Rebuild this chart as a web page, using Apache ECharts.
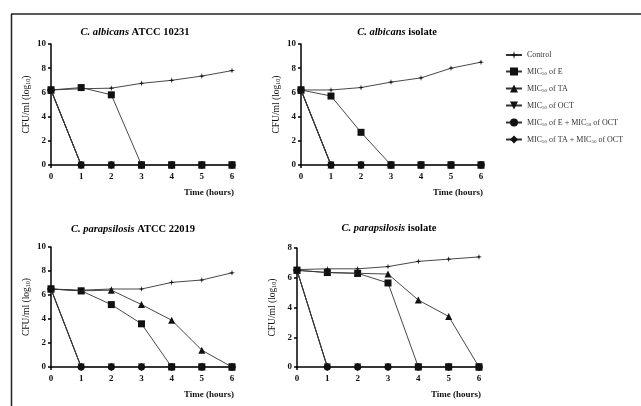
<!DOCTYPE html>
<html><head><meta charset="utf-8">
<script src="https://cdn.jsdelivr.net/npm/echarts@6/dist/echarts.min.js"></script>
<style>html,body{margin:0;padding:0;background:#fff}#c{width:641px;height:406px}</style>
</head><body><div id="c"></div>
<script>
const hours = [0, 1, 2, 3, 4, 5, 6];
const seriesNames = ['Control', 'MIC50 of E', 'MIC50 of TA', 'MIC50 of OCT', 'MIC50 of E + MIC50 of OCT', 'MIC50 of TA + MIC50 of OCT'];
const legendLabels = ['Control', 'MIC{s|50} of E', 'MIC{s|50} of TA', 'MIC{s|50} of OCT', 'MIC{s|50} of E + MIC{s|50} of OCT', 'MIC{s|50} of TA + MIC{s|50} of OCT'];
const panelTitles = ['{i|C. albicans} {b|ATCC 10231}', '{i|C. albicans} {b|isolate}', '{i|C. parapsilosis} {b|ATCC 22019}', '{i|C. parapsilosis} {b|isolate}'];
const yMax = [10, 10, 10, 8];
const xTickLabels = ['0', '1', '2', '3', '4', '5', '6'];

// C. albicans ATCC 10231
const a1Control = [6.2, 6.3, 6.35, 6.75, 7.0, 7.35, 7.8];
const a1E = [6.2, 6.4, 5.8, 0, 0, 0, 0];
const a1TA = [6.2, 0, 0, 0, 0, 0, 0];
const a1OCT = [6.2, 0, 0, 0, 0, 0, 0];
const a1EOCT = [6.2, 0, 0, 0, 0, 0, 0];
const a1TAOCT = [6.2, 0, 0, 0, 0, 0, 0];
// C. albicans isolate
const a2Control = [6.2, 6.2, 6.4, 6.85, 7.2, 8.0, 8.5];
const a2E = [6.2, 5.7, 2.7, 0, 0, 0, 0];
const a2TA = [6.2, 0, 0, 0, 0, 0, 0];
const a2OCT = [6.2, 0, 0, 0, 0, 0, 0];
const a2EOCT = [6.2, 0, 0, 0, 0, 0, 0];
const a2TAOCT = [6.2, 0, 0, 0, 0, 0, 0];
// C. parapsilosis ATCC 22019
const p1Control = [6.5, 6.4, 6.5, 6.5, 7.05, 7.25, 7.85];
const p1E = [6.5, 6.35, 5.2, 3.6, 0, 0, 0];
const p1TA = [6.5, 6.35, 6.4, 5.2, 3.9, 1.4, 0];
const p1OCT = [6.5, 0, 0, 0, 0, 0, 0];
const p1EOCT = [6.5, 0, 0, 0, 0, 0, 0];
const p1TAOCT = [6.5, 0, 0, 0, 0, 0, 0];
// C. parapsilosis isolate
const p2Control = [6.55, 6.6, 6.6, 6.75, 7.1, 7.25, 7.4];
const p2E = [6.5, 6.35, 6.3, 5.65, 0, 0, 0];
const p2TA = [6.5, 6.35, 6.3, 6.25, 4.5, 3.4, 0];
const p2OCT = [6.5, 0, 0, 0, 0, 0, 0];
const p2EOCT = [6.5, 0, 0, 0, 0, 0, 0];
const p2TAOCT = [6.5, 0, 0, 0, 0, 0, 0];

const panels = [
  [a1Control, a1E, a1TA, a1OCT, a1EOCT, a1TAOCT],
  [a2Control, a2E, a2TA, a2OCT, a2EOCT, a2TAOCT],
  [p1Control, p1E, p1TA, p1OCT, p1EOCT, p1TAOCT],
  [p2Control, p2E, p2TA, p2OCT, p2EOCT, p2TAOCT]
];

const FONT = '"Liberation Serif", "DejaVu Serif", serif';
const grids = [
  {left: 51, top: 44, width: 181, height: 121},
  {left: 301, top: 44, width: 180, height: 121},
  {left: 51, top: 247, width: 181, height: 120},
  {left: 297, top: 248, width: 182, height: 119}
];
const titleCenters = [[130, 22], [392, 22], [128, 219], [384, 218]];

const starPath = 'path://M0,-10L2,-2L10,0L2,2L0,10L-2,2L-10,0L-2,-2Z';
const symbols = [starPath, 'rect', 'triangle', 'triangle', 'circle', 'diamond'];
const symbolSizes = [6, 7, 7, 7, 7, 8];
const symbolRotate = [0, 0, 0, 180, 0, 0];

const option = {
  backgroundColor: '#fff',
  animation: false,
  textStyle: {fontFamily: FONT, color: '#000'},
  graphic: [
    {type: 'line', shape: {x1: 11, y1: 14, x2: 641, y2: 14}, style: {stroke: '#222', lineWidth: 1.5}},
    {type: 'line', shape: {x1: 11.5, y1: 14, x2: 11.5, y2: 406}, style: {stroke: '#222', lineWidth: 1.5}}
  ],
  title: panelTitles.map((t, i) => ({
    text: t,
    left: titleCenters[i][0],
    top: titleCenters[i][1],
    textAlign: 'center',
    textStyle: {
      fontFamily: FONT, fontSize: 10.5, color: '#000',
      rich: {
        i: {fontFamily: FONT, fontSize: 10.5, fontStyle: 'italic', fontWeight: 'bold', color: '#000'},
        b: {fontFamily: FONT, fontSize: 10.5, fontWeight: 'bold', color: '#000'}
      }
    }
  })),
  legend: {
    orient: 'vertical',
    left: 500,
    top: 46,
    itemGap: 8.5,
    itemWidth: 16,
    itemHeight: 10,
    data: seriesNames,
    formatter: name => legendLabels[seriesNames.indexOf(name)],
    textStyle: {
      fontFamily: FONT, fontSize: 8, color: '#333',
      rich: {s: {fontFamily: FONT, fontSize: 5, color: '#333', verticalAlign: 'bottom', padding: [4, 0, 0, 0]}}
    },
    selectedMode: false
  },
  grid: grids.map(g => Object.assign({containLabel: false}, g)),
  xAxis: grids.map((g, i) => ({
    type: 'value', gridIndex: i, min: 0, max: 6, interval: 1,
    name: 'Time (hours)', nameLocation: 'end', nameGap: 2,
    nameTextStyle: {fontFamily: FONT, fontSize: 9, fontWeight: 'bold', color: '#111', align: 'right', verticalAlign: 'top', padding: [23, 0, 0, 0]},
    axisLine: {onZero: false, lineStyle: {color: '#000', width: 1.5}},
    axisTick: {show: true, length: 3, lineStyle: {color: '#000', width: 1.5}},
    axisLabel: {fontFamily: FONT, fontSize: 9, fontWeight: 'bold', color: '#111', margin: 7,
      formatter: v => xTickLabels[hours.indexOf(v)]},
    splitLine: {show: false}
  })),
  yAxis: grids.map((g, i) => ({
    type: 'value', gridIndex: i, min: 0, max: yMax[i], interval: 2,
    name: 'CFU/ml (log{s|10})', nameLocation: 'middle', nameGap: 20, nameRotate: 90,
    nameTextStyle: {fontFamily: FONT, fontSize: 9.5, color: '#111',
      rich: {s: {fontFamily: FONT, fontSize: 6, color: '#111', verticalAlign: 'bottom', padding: [4, 0, 0, 0]}}},
    axisLine: {show: true, lineStyle: {color: '#000', width: 1.5}},
    axisTick: {show: true, length: 3, lineStyle: {color: '#000', width: 1.5}},
    axisLabel: {fontFamily: FONT, fontSize: 9, fontWeight: 'bold', color: '#111', margin: 5},
    splitLine: {show: false}
  })),
  series: []
};

panels.forEach((arrs, pi) => {
  arrs.forEach((vals, si) => {
    option.series.push({
      type: 'line',
      name: seriesNames[si],
      xAxisIndex: pi, yAxisIndex: pi,
      data: hours.map((h, k) => [h, vals[k]]),
      symbol: symbols[si],
      symbolSize: symbolSizes[si],
      symbolRotate: symbolRotate[si],
      showAllSymbol: true,
      lineStyle: {color: '#333', width: 0.9},
      itemStyle: {color: '#111', borderWidth: 0},
      emphasis: {disabled: true},
      z: 2 + si
    });
  });
});

const chart = echarts.init(document.getElementById('c'), null, {renderer: 'canvas'});
chart.setOption(option);
</script>
</body></html>
